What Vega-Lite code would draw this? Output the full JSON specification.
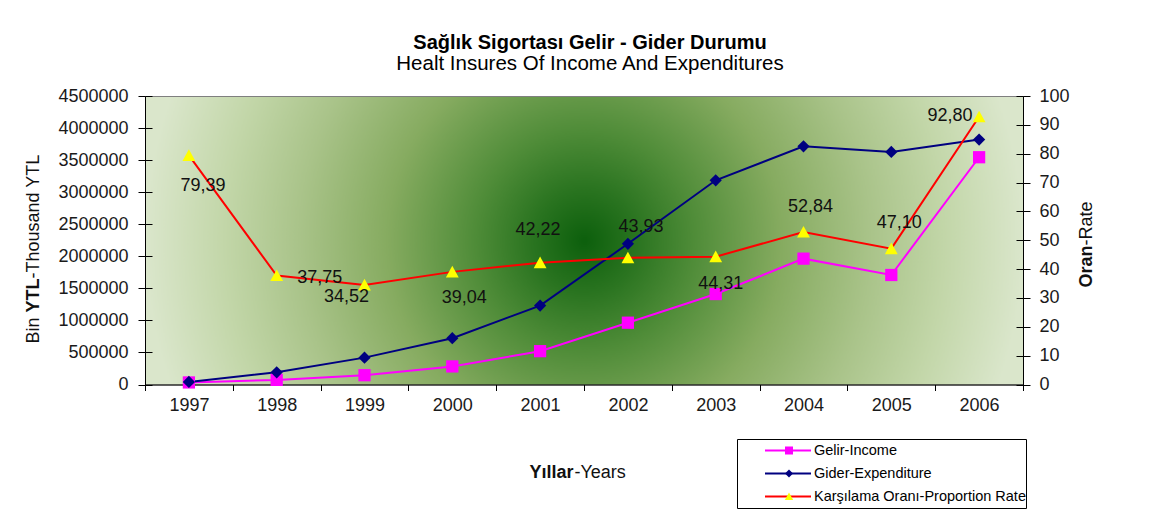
{
  "$schema": "https://vega.github.io/schema/vega-lite/v6.json",
  "autosize": {"type": "none"},
  "padding": {"left": 145, "top": 96, "right": 148, "bottom": 142.5},
  "width": 878,
  "height": 288.5,
  "background": "white",
  "title": {
    "text": "Sağlık Sigortası Gelir - Gider Durumu",
    "subtitle": "Healt Insures Of Income And Expenditures",
    "font": "Liberation Sans",
    "fontSize": 20,
    "fontWeight": "bold",
    "color": "#000000",
    "subtitleFont": "Liberation Sans",
    "subtitleFontSize": 20.5,
    "subtitleFontWeight": "normal",
    "subtitleColor": "#000000",
    "subtitlePadding": 1,
    "anchor": "middle",
    "offset": 13,
    "dx": 6
  },
  "data": {
    "values": [
      {"year": "1997", "series": "Gelir-Income", "value": 32000},
      {"year": "1998", "series": "Gelir-Income", "value": 72000},
      {"year": "1999", "series": "Gelir-Income", "value": 145000},
      {"year": "2000", "series": "Gelir-Income", "value": 282000},
      {"year": "2001", "series": "Gelir-Income", "value": 520000},
      {"year": "2002", "series": "Gelir-Income", "value": 964000},
      {"year": "2003", "series": "Gelir-Income", "value": 1411000},
      {"year": "2004", "series": "Gelir-Income", "value": 1963000},
      {"year": "2005", "series": "Gelir-Income", "value": 1708000},
      {"year": "2006", "series": "Gelir-Income", "value": 3545000},
      {"year": "1997", "series": "Gider-Expenditure", "value": 40000},
      {"year": "1998", "series": "Gider-Expenditure", "value": 190000},
      {"year": "1999", "series": "Gider-Expenditure", "value": 419000},
      {"year": "2000", "series": "Gider-Expenditure", "value": 722000},
      {"year": "2001", "series": "Gider-Expenditure", "value": 1231000},
      {"year": "2002", "series": "Gider-Expenditure", "value": 2195000},
      {"year": "2003", "series": "Gider-Expenditure", "value": 3185000},
      {"year": "2004", "series": "Gider-Expenditure", "value": 3716000},
      {"year": "2005", "series": "Gider-Expenditure", "value": 3627000},
      {"year": "2006", "series": "Gider-Expenditure", "value": 3820000},
      {"year": "1997", "series": "Karşılama Oranı-Proportion Rate", "value": 79.39},
      {"year": "1998", "series": "Karşılama Oranı-Proportion Rate", "value": 37.75},
      {"year": "1999", "series": "Karşılama Oranı-Proportion Rate", "value": 34.52},
      {"year": "2000", "series": "Karşılama Oranı-Proportion Rate", "value": 39.04},
      {"year": "2001", "series": "Karşılama Oranı-Proportion Rate", "value": 42.22},
      {"year": "2002", "series": "Karşılama Oranı-Proportion Rate", "value": 43.93},
      {"year": "2003", "series": "Karşılama Oranı-Proportion Rate", "value": 44.31},
      {"year": "2004", "series": "Karşılama Oranı-Proportion Rate", "value": 52.84},
      {"year": "2005", "series": "Karşılama Oranı-Proportion Rate", "value": 47.10},
      {"year": "2006", "series": "Karşılama Oranı-Proportion Rate", "value": 92.80}
    ]
  },
  "resolve": {
    "scale": {"y": "independent"},
    "axis": {"x": "independent", "y": "independent"}
  },
  "layer": [
    {
      "transform": [{"filter": {"field": "series", "oneOf": ["Gelir-Income", "Gider-Expenditure"]}}],
      "mark": {"type": "line", "strokeWidth": 2},
      "encoding": {
        "x": {
          "field": "year", "type": "ordinal",
          "scale": {"type": "band", "paddingInner": 0, "paddingOuter": 0},
          "axis": {
            "orient": "bottom",
            "title": "Yıllar", "titleFontWeight": "bold", "titleAlign": "left", "titleAngle": 0,
            "titleBaseline": "middle", "titleX": 384, "titleY": 88,
            "labelAngle": 0, "tickBand": "extent", "tickSize": 6, "labelPadding": 6
          }
        },
        "y": {
          "field": "value", "type": "quantitative",
          "scale": {"domain": [0, 4500000], "nice": false},
          "axis": {
            "orient": "left", "format": "d",
            "values": [0, 500000, 1000000, 1500000, 2000000, 2500000, 3000000, 3500000, 4000000, 4500000],
            "tickSize": 7, "labelPadding": 10,
            "title": "YTL", "titleFontWeight": "bold", "titleAngle": 270, "titleAlign": "left",
            "titleBaseline": "middle", "titleX": -112, "titleY": 216
          }
        },
        "color": {
          "field": "series", "type": "nominal",
          "scale": {"domain": ["Gelir-Income", "Gider-Expenditure", "Karşılama Oranı-Proportion Rate"], "range": ["#ff00ff", "#000080", "#ff0000"]},
          "legend": {
            "orient": "none", "legendX": 592, "legendY": 343, "title": null,
            "symbolType": "M-1,0H1M11.5,0h0", "symbolSize": 2116, "symbolStrokeWidth": 2,
            "symbolFillColor": "transparent",
            "clipHeight": 23, "padding": 0, "rowPadding": 0,
            "symbolOffset": 27, "labelOffset": 2,
            "labelFont": "Liberation Sans", "labelFontSize": 14.5, "labelColor": "#000000", "labelLimit": 400,
            "strokeColor": "#000000", "fillColor": "#ffffff"
          }
        }
      }
    },
    {
      "transform": [{"filter": {"field": "series", "oneOf": ["Gelir-Income", "Gider-Expenditure"]}}],
      "mark": {"type": "point", "filled": true, "size": 150, "opacity": 1, "strokeWidth": 0},
      "encoding": {
        "x": {"field": "year", "type": "ordinal", "axis": null},
        "y": {"field": "value", "type": "quantitative", "scale": {"domain": [0, 4500000], "nice": false}, "axis": null},
        "fill": {
          "field": "series", "type": "nominal",
          "scale": {"range": ["#ff00ff", "#000080", "#ffff00"]},
          "legend": {
            "orient": "none", "legendX": 592, "legendY": 343, "title": null,
            "symbolSize": 64, "symbolStrokeWidth": 0, "clipHeight": 23, "padding": 0, "rowPadding": 0,
            "symbolOffset": 47, "labelExpr": "''"
          }
        },
        "shape": {
          "field": "series", "type": "nominal",
          "scale": {"range": ["M-1,-1H1V1H-1Z", "M0,-1L1,0L0,1L-1,0Z", "M0,-1L1.05,0.9H-1.05Z"]},
          "legend": {
            "orient": "none", "legendX": 592, "legendY": 343, "title": null,
            "symbolSize": 64, "symbolStrokeWidth": 0, "clipHeight": 23, "padding": 0, "rowPadding": 0,
            "symbolOffset": 47, "labelExpr": "''"
          }
        }
      }
    },
    {
      "transform": [{"filter": {"field": "series", "equal": "Karşılama Oranı-Proportion Rate"}}],
      "mark": {"type": "line", "strokeWidth": 2},
      "encoding": {
        "x": {"field": "year", "type": "ordinal", "axis": null},
        "y": {
          "field": "value", "type": "quantitative",
          "scale": {"domain": [0, 100], "nice": false},
          "axis": {
            "orient": "right", "format": "d",
            "values": [0, 10, 20, 30, 40, 50, 60, 70, 80, 90, 100],
            "tickSize": 7, "labelPadding": 9,
            "title": "Oran", "titleFontWeight": "bold", "titleAngle": 270, "titleAlign": "right",
            "titleBaseline": "middle", "titleX": 63, "titleY": 149
          }
        },
        "color": {
          "field": "series", "type": "nominal",
          "scale": {"domain": ["Gelir-Income", "Gider-Expenditure", "Karşılama Oranı-Proportion Rate"], "range": ["#ff00ff", "#000080", "#ff0000"]}
        }
      }
    },
    {
      "transform": [{"filter": {"field": "series", "equal": "Karşılama Oranı-Proportion Rate"}}],
      "mark": {"type": "point", "filled": true, "size": 150, "opacity": 1, "strokeWidth": 0},
      "encoding": {
        "x": {"field": "year", "type": "ordinal", "axis": null},
        "y": {"field": "value", "type": "quantitative", "scale": {"domain": [0, 100], "nice": false}, "axis": null},
        "fill": {"field": "series", "type": "nominal", "scale": {"range": ["#ff00ff", "#000080", "#ffff00"]}},
        "shape": {"field": "series", "type": "nominal", "scale": {"range": ["M-1,-1H1V1H-1Z", "M0,-1L1,0L0,1L-1,0Z", "M0,-1L1.05,0.9H-1.05Z"]}}
      }
    },
    {
      "transform": [{"filter": "datum.series === 'Karşılama Oranı-Proportion Rate' && datum.year === '1997'"}],
      "mark": {"type": "text", "font": "Liberation Sans", "fontSize": 18, "color": "#111111", "baseline": "middle", "dx": 14, "dy": 31},
      "encoding": {
        "x": {"field": "year", "type": "ordinal", "axis": null},
        "y": {"field": "value", "type": "quantitative", "scale": {"domain": [0, 100], "nice": false}, "axis": null},
        "text": {"field": "value", "type": "quantitative", "format": ".2f"}
      }
    },
    {
      "transform": [{"filter": "datum.series === 'Karşılama Oranı-Proportion Rate' && datum.year === '1998'"}],
      "mark": {"type": "text", "font": "Liberation Sans", "fontSize": 18, "color": "#111111", "baseline": "middle", "dx": 43, "dy": 2},
      "encoding": {
        "x": {"field": "year", "type": "ordinal", "axis": null},
        "y": {"field": "value", "type": "quantitative", "scale": {"domain": [0, 100], "nice": false}, "axis": null},
        "text": {"field": "value", "type": "quantitative", "format": ".2f"}
      }
    },
    {
      "transform": [{"filter": "datum.series === 'Karşılama Oranı-Proportion Rate' && datum.year === '1999'"}],
      "mark": {"type": "text", "font": "Liberation Sans", "fontSize": 18, "color": "#111111", "baseline": "middle", "dx": -18, "dy": 12},
      "encoding": {
        "x": {"field": "year", "type": "ordinal", "axis": null},
        "y": {"field": "value", "type": "quantitative", "scale": {"domain": [0, 100], "nice": false}, "axis": null},
        "text": {"field": "value", "type": "quantitative", "format": ".2f"}
      }
    },
    {
      "transform": [{"filter": "datum.series === 'Karşılama Oranı-Proportion Rate' && datum.year === '2000'"}],
      "mark": {"type": "text", "font": "Liberation Sans", "fontSize": 18, "color": "#111111", "baseline": "middle", "dx": 12, "dy": 26},
      "encoding": {
        "x": {"field": "year", "type": "ordinal", "axis": null},
        "y": {"field": "value", "type": "quantitative", "scale": {"domain": [0, 100], "nice": false}, "axis": null},
        "text": {"field": "value", "type": "quantitative", "format": ".2f"}
      }
    },
    {
      "transform": [{"filter": "datum.series === 'Karşılama Oranı-Proportion Rate' && datum.year === '2001'"}],
      "mark": {"type": "text", "font": "Liberation Sans", "fontSize": 18, "color": "#111111", "baseline": "middle", "dx": -2, "dy": -33},
      "encoding": {
        "x": {"field": "year", "type": "ordinal", "axis": null},
        "y": {"field": "value", "type": "quantitative", "scale": {"domain": [0, 100], "nice": false}, "axis": null},
        "text": {"field": "value", "type": "quantitative", "format": ".2f"}
      }
    },
    {
      "transform": [{"filter": "datum.series === 'Karşılama Oranı-Proportion Rate' && datum.year === '2002'"}],
      "mark": {"type": "text", "font": "Liberation Sans", "fontSize": 18, "color": "#111111", "baseline": "middle", "dx": 13, "dy": -31},
      "encoding": {
        "x": {"field": "year", "type": "ordinal", "axis": null},
        "y": {"field": "value", "type": "quantitative", "scale": {"domain": [0, 100], "nice": false}, "axis": null},
        "text": {"field": "value", "type": "quantitative", "format": ".2f"}
      }
    },
    {
      "transform": [{"filter": "datum.series === 'Karşılama Oranı-Proportion Rate' && datum.year === '2003'"}],
      "mark": {"type": "text", "font": "Liberation Sans", "fontSize": 18, "color": "#111111", "baseline": "middle", "dx": 5, "dy": 27},
      "encoding": {
        "x": {"field": "year", "type": "ordinal", "axis": null},
        "y": {"field": "value", "type": "quantitative", "scale": {"domain": [0, 100], "nice": false}, "axis": null},
        "text": {"field": "value", "type": "quantitative", "format": ".2f"}
      }
    },
    {
      "transform": [{"filter": "datum.series === 'Karşılama Oranı-Proportion Rate' && datum.year === '2004'"}],
      "mark": {"type": "text", "font": "Liberation Sans", "fontSize": 18, "color": "#111111", "baseline": "middle", "dx": 7, "dy": -25},
      "encoding": {
        "x": {"field": "year", "type": "ordinal", "axis": null},
        "y": {"field": "value", "type": "quantitative", "scale": {"domain": [0, 100], "nice": false}, "axis": null},
        "text": {"field": "value", "type": "quantitative", "format": ".2f"}
      }
    },
    {
      "transform": [{"filter": "datum.series === 'Karşılama Oranı-Proportion Rate' && datum.year === '2005'"}],
      "mark": {"type": "text", "font": "Liberation Sans", "fontSize": 18, "color": "#111111", "baseline": "middle", "dx": 8, "dy": -26},
      "encoding": {
        "x": {"field": "year", "type": "ordinal", "axis": null},
        "y": {"field": "value", "type": "quantitative", "scale": {"domain": [0, 100], "nice": false}, "axis": null},
        "text": {"field": "value", "type": "quantitative", "format": ".2f"}
      }
    },
    {
      "transform": [{"filter": "datum.series === 'Karşılama Oranı-Proportion Rate' && datum.year === '2006'"}],
      "mark": {"type": "text", "font": "Liberation Sans", "fontSize": 18, "color": "#111111", "baseline": "middle", "dx": -29, "dy": -1},
      "encoding": {
        "x": {"field": "year", "type": "ordinal", "axis": null},
        "y": {"field": "value", "type": "quantitative", "scale": {"domain": [0, 100], "nice": false}, "axis": null},
        "text": {"field": "value", "type": "quantitative", "format": ".2f"}
      }
    },
    {
      "transform": [{"filter": {"field": "series", "equal": "Gelir-Income"}}],
      "mark": {"type": "point", "opacity": 0},
      "encoding": {
        "x": {
          "field": "year", "type": "ordinal",
          "axis": {
            "orient": "bottom",
            "title": "-Years", "titleFontWeight": "normal", "titleAlign": "left", "titleAngle": 0,
            "titleBaseline": "middle", "titleX": 429, "titleY": 88,
            "labels": false, "ticks": false, "domain": false
          }
        },
        "y": {
          "field": "value", "type": "quantitative",
          "scale": {"domain": [0, 4500000], "nice": false},
          "axis": {
            "orient": "left", "labels": false, "domain": false,
            "values": [0, 500000, 1000000, 1500000, 2000000, 2500000, 3000000, 3500000, 4000000, 4500000],
            "tickSize": -7,
            "title": "-Thousand  YTL", "titleFontWeight": "normal", "titleAngle": 270, "titleAlign": "left",
            "titleBaseline": "middle", "titleX": -112, "titleY": 182
          }
        }
      }
    },
    {
      "transform": [{"filter": {"field": "series", "equal": "Gelir-Income"}}],
      "mark": {"type": "point", "opacity": 0},
      "encoding": {
        "x": {"field": "year", "type": "ordinal", "axis": null},
        "y": {
          "field": "value", "type": "quantitative",
          "scale": {"domain": [0, 4500000], "nice": false},
          "axis": {
            "orient": "left", "labels": false, "domain": false, "ticks": false,
            "title": "Bin", "titleFontWeight": "normal", "titleAngle": 270, "titleAlign": "left",
            "titleBaseline": "middle", "titleX": -112, "titleY": 247
          }
        }
      }
    },
    {
      "transform": [{"filter": {"field": "series", "equal": "Karşılama Oranı-Proportion Rate"}}],
      "mark": {"type": "point", "opacity": 0},
      "encoding": {
        "x": {"field": "year", "type": "ordinal", "axis": null},
        "y": {
          "field": "value", "type": "quantitative",
          "scale": {"domain": [0, 100], "nice": false},
          "axis": {
            "orient": "right", "labels": false, "domain": false,
            "values": [0, 10, 20, 30, 40, 50, 60, 70, 80, 90, 100],
            "tickSize": -7,
            "title": "-Rate", "titleFontWeight": "normal", "titleAngle": 270, "titleAlign": "left",
            "titleBaseline": "middle", "titleX": 63, "titleY": 149
          }
        }
      }
    }
  ],
  "config": {
    "font": "Liberation Sans",
    "locale": {"number": {"decimal": ",", "thousands": ".", "grouping": [3], "currency": ["", ""]}},
    "view": {
      "stroke": "#7f7f7f",
      "strokeWidth": 1,
      "fill": {
        "gradient": "radial",
        "x1": 0.5, "y1": 0.5, "r1": 0,
        "x2": 0.5, "y2": 0.5, "r2": 0.5,
        "stops": [
          {"offset": 0, "color": "#0c5f0c"},
          {"offset": 0.12, "color": "#2a7420"},
          {"offset": 0.25, "color": "#4f8c38"},
          {"offset": 0.45, "color": "#86ab60"},
          {"offset": 0.65, "color": "#a9c389"},
          {"offset": 0.82, "color": "#c2d6a8"},
          {"offset": 1, "color": "#dae6cb"}
        ]
      }
    },
    "axis": {
      "grid": false,
      "labelFont": "Liberation Sans",
      "labelFontSize": 18,
      "labelColor": "#1a1a1a",
      "titleFont": "Liberation Sans",
      "titleFontSize": 18,
      "titleColor": "#111111",
      "domainColor": "#000000",
      "tickColor": "#000000",
      "domainWidth": 1,
      "tickWidth": 1
    }
  }
}
